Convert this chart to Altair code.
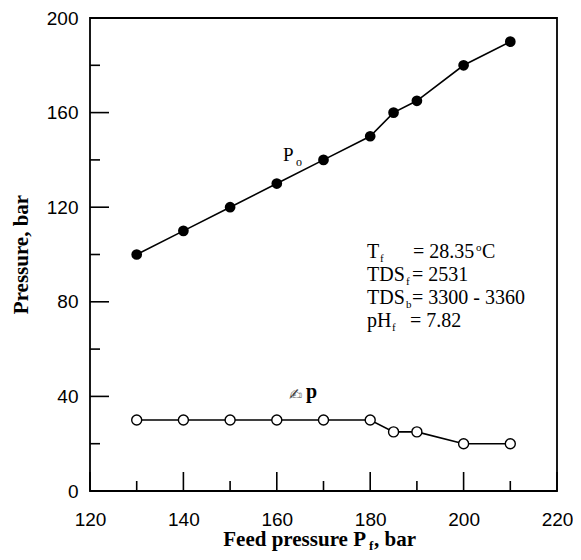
import altair as alt
import pandas as pd

# ---- data ----
feed_pressure = [130, 140, 150, 160, 170, 180, 185, 190, 200, 210]
p_o_values = [100, 110, 120, 130, 140, 150, 160, 165, 180, 190]
p_p_values = [30, 30, 30, 30, 30, 30, 25, 25, 20, 20]

x_major = [120, 140, 160, 180, 200, 220]
x_minor = [130, 150, 170, 190, 210]
y_major = [0, 40, 80, 120, 160, 200]
y_minor = [20, 60, 100, 140, 180]

W, H = 467, 473

df_o = pd.DataFrame({"feed": feed_pressure, "pressure": p_o_values})
df_p = pd.DataFrame({"feed": feed_pressure, "pressure": p_p_values})

x_enc = alt.X("feed:Q",
              scale=alt.Scale(domain=[120, 220], nice=False, zero=False),
              axis=alt.Axis(values=x_major, ticks=False, tickSize=0, domain=False, grid=False,
                            title=None, labelFont="Liberation Sans", labelFontSize=19,
                            labelColor="black", labelPadding=19, labelFlush=False))
y_enc = alt.Y("pressure:Q",
              scale=alt.Scale(domain=[0, 200], nice=False),
              axis=alt.Axis(values=y_major, ticks=False, tickSize=0, domain=False, grid=False,
                            title=None, labelFont="Liberation Sans", labelFontSize=19,
                            labelColor="black", labelPadding=12, labelFlush=False))

lines = alt.layer(
    alt.Chart(df_o).mark_line(color="black", strokeWidth=1.6).encode(x=x_enc, y=y_enc),
    alt.Chart(df_p).mark_line(color="black", strokeWidth=1.6).encode(x=x_enc, y=y_enc),
)
pts_o = alt.Chart(df_o).mark_point(shape="circle", filled=True, color="black", size=115,
                                   opacity=1).encode(x=x_enc, y=y_enc)
pts_p = alt.Chart(df_p).mark_point(shape="circle", filled=True, fill="white", stroke="black",
                                   strokeWidth=1.4, size=100, opacity=1).encode(x=x_enc, y=y_enc)

# inward ticks
def xticks(vals, length):
    return alt.Chart(pd.DataFrame({"feed": vals})).mark_rule(color="black", strokeWidth=1.6).encode(
        x=x_enc, y=alt.value(H), y2=alt.value(H - length))

def yticks(vals, length):
    return alt.Chart(pd.DataFrame({"pressure": vals})).mark_rule(color="black", strokeWidth=1.6).encode(
        y=y_enc, x=alt.value(0), x2=alt.value(length))

one = pd.DataFrame({"k": [0]})

def txt(text, x, y, size=20, bold=False, font="Liberation Serif", align="left",
        baseline="alphabetic", angle=0, color="black"):
    return alt.Chart(one).mark_text(text=text, align=align, baseline=baseline, font=font,
                                    fontSize=size, fontWeight="bold" if bold else "normal",
                                    angle=angle, color=color).encode(
        x=alt.value(x), y=alt.value(y))

texts = [
    # axis titles
    txt("Pressure, bar", -68, H / 2, size=21, bold=True, align="center", baseline="middle", angle=270),
    txt("Feed pressure P", 276, 528, size=21, bold=True, align="right"),
    txt("f", 279, 532, size=13, bold=True),
    txt(" , bar", 284, 528, size=21, bold=True),
    # series labels
    txt("P", 193, 143, size=19),
    txt("o", 206, 148, size=12),
    txt("\u270d", 199, 382, size=16, font="DejaVu Sans", color="#444444"),
    txt("p", 216, 380, size=20, bold=True),
    # conditions box
    txt("T", 277, 240),
    txt("f", 290, 244, size=11),
    txt("= 28.35", 323, 240),
    txt("o", 386, 233, size=11),
    txt("C", 392, 240),
    txt("TDS", 277, 263),
    txt("f", 316, 267, size=11),
    txt("= 2531", 322, 263),
    txt("TDS", 277, 286),
    txt("b", 316, 290, size=11),
    txt("= 3300 - 3360", 322, 286),
    txt("pH", 277, 309),
    txt("f", 302, 313, size=11),
    txt("= 7.82", 320, 309),
]

chart = alt.layer(
    lines,
    xticks(x_major, 19), xticks(x_minor, 10),
    yticks(y_major, 19), yticks(y_minor, 10),
    pts_o, pts_p,
    *texts,
).properties(
    width=W, height=H,
    padding={"left": 82, "top": 10, "right": 16, "bottom": 61},
    autosize=alt.AutoSizeParams(type="none"),
    background="white",
).configure_view(stroke="black", strokeWidth=1.8)

chart.save("out.html", embed_options={"renderer": "svg", "actions": False})
